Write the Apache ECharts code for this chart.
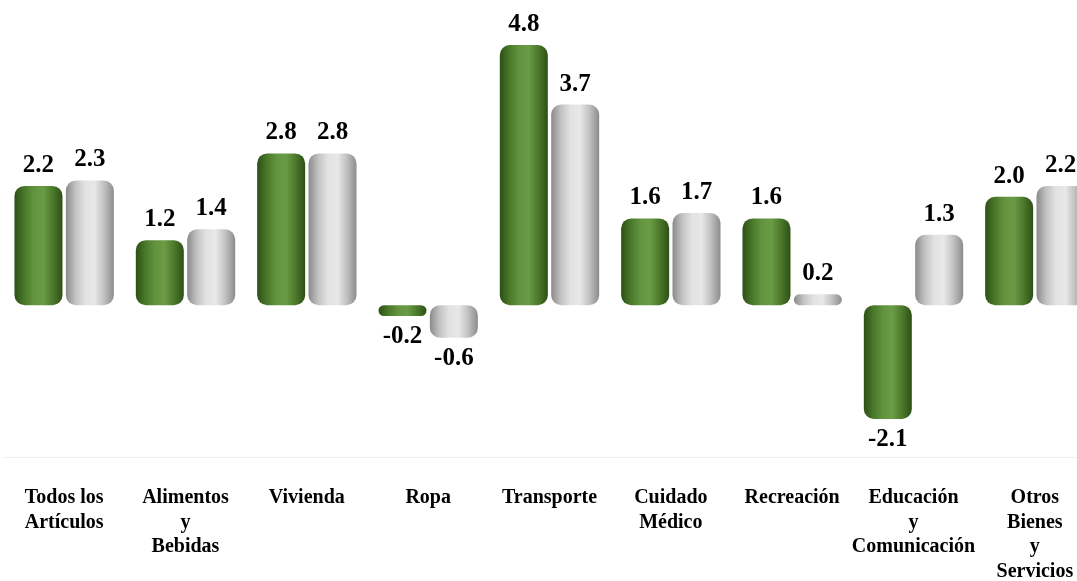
<!DOCTYPE html>
<html>
<head>
<meta charset="utf-8">
<script src="https://cdn.jsdelivr.net/npm/echarts@6/dist/echarts.min.js"></script>
<style>html,body{margin:0;padding:0;background:#fff}#c{width:1077px;height:581px}</style>
</head>
<body>
<div id="c"></div>
<script>
const categories = ['Todos los\nArtículos', 'Alimentos\ny\nBebidas', 'Vivienda', 'Ropa', 'Transporte', 'Cuidado\nMédico', 'Recreación', 'Educación\ny\nComunicación', 'Otros\nBienes\ny\nServicios'];
const seriesA = [2.2, 1.2, 2.8, -0.2, 4.8, 1.6, 1.6, -2.1, 2.0];
const seriesB = [2.3, 1.4, 2.8, -0.6, 3.7, 1.7, 0.2, 1.3, 2.2];

const FONT = 'Liberation Serif';
function grad(stops) {
  return new echarts.graphic.LinearGradient(0, 0, 1, 0, stops.map((c, i) => ({offset: i / (stops.length - 1), color: c})));
}
const greenFill = grad(['#2c4f15', '#4a782a', '#62933e', '#6a9b45', '#4c792b', '#2d5016']);
const grayFill = grad(['#8a8a8a', '#c2c2c2', '#e2e2e2', '#e8e8e8', '#c0c0c0', '#8c8c8c']);

function items(vals) {
  return vals.map(v => v < 0 ? {value: v, label: {position: 'bottom'}} : v);
}
const labelCfg = {
  show: true, position: 'top', distance: 8,
  fontFamily: FONT, fontWeight: 'bold', fontSize: 25, color: '#000',
  formatter: p => Number(p.value).toFixed(1)
};

const chart = echarts.init(document.getElementById('c'), null, {renderer: 'canvas'});
chart.setOption({
  animation: false,
  backgroundColor: '#fff',
  grid: {left: 3.5, width: 1092, top: 7, bottom: 124, containLabel: false, outerBoundsMode: 'none'},
  xAxis: {
    type: 'category', data: categories,
    axisLine: {show: true, onZero: false, lineStyle: {color: '#f0f0f0', width: 1}},
    axisTick: {show: false},
    axisLabel: {
      interval: 0, margin: 29, fontFamily: FONT, fontWeight: 'bold', fontSize: 20,
      color: '#000', lineHeight: 24.5, align: 'center', verticalAlign: 'top'
    }
  },
  yAxis: {
    type: 'value', min: -2.8, max: 5.5, show: false, splitLine: {show: false}
  },
  series: [
    {
      type: 'bar', data: items(seriesA), barWidth: 48, barGap: '7%',
      itemStyle: {color: greenFill, borderRadius: 10},
      label: labelCfg
    },
    {
      type: 'bar', data: items(seriesB), barWidth: 48,
      itemStyle: {color: grayFill, borderRadius: 10},
      label: labelCfg
    }
  ]
});
</script>
</body>
</html>
